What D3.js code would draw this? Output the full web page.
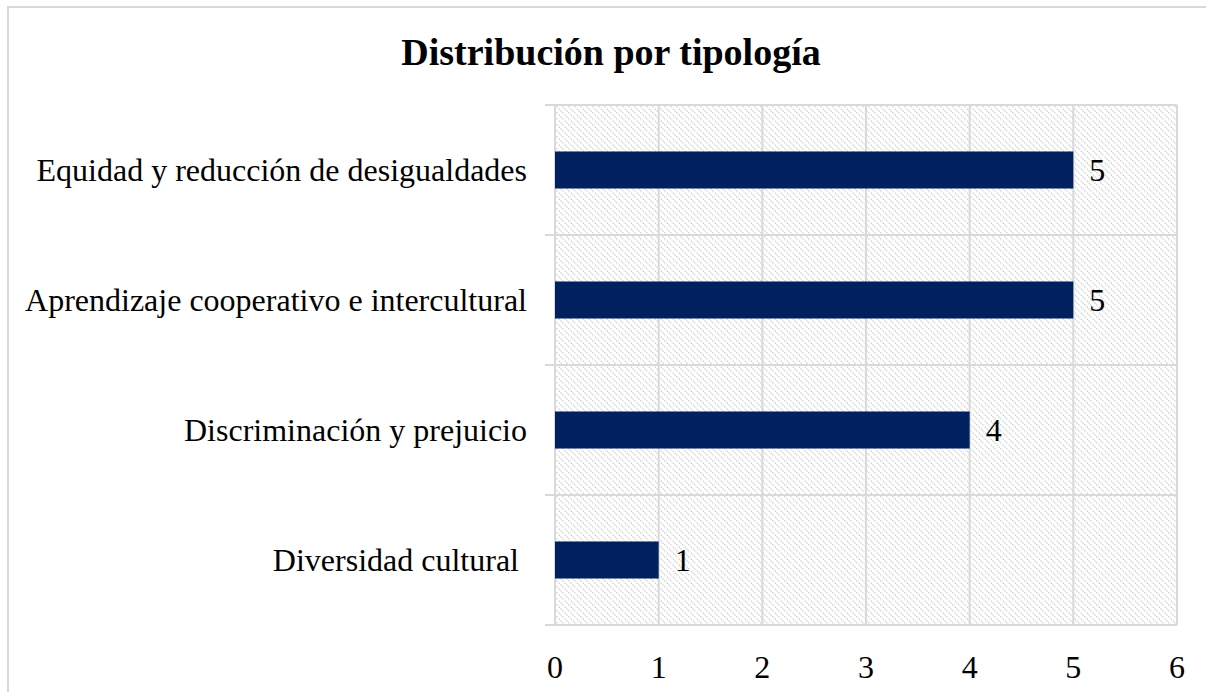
<!DOCTYPE html>
<html><head><meta charset="utf-8">
<script src="https://cdn.jsdelivr.net/npm/d3@7"></script>
<style>body{margin:0;background:#fff}svg{display:block}text{font-family:"Liberation Serif","Times New Roman",serif}</style>
</head><body><svg id="c" width="1206" height="692"></svg>
<script>
const categories = ["Equidad y reducción de desigualdades","Aprendizaje cooperativo e intercultural","Discriminación y prejuicio","Diversidad cultural "];
const values = [5,5,4,1];
const xTicks = [0,1,2,3,4,5,6];
const title = "Distribución por tipología";

const svg = d3.select("#c");
const W=1206,H=692;
const m={left:555,right:1177,top:105,bottom:625};
const defs = svg.append("defs");
const pat = defs.append("pattern").attr("id","hatch").attr("patternUnits","userSpaceOnUse").attr("width",6).attr("height",6);
pat.append("path").attr("d","M-1,-1 L7,7 M-1,5 L1,7 M5,-1 L7,1").attr("stroke","#cfcfcf").attr("stroke-width",1.3).attr("stroke-dasharray","1.5,1");

// outer border
svg.append("rect").attr("x",8).attr("y",7).attr("width",W+40).attr("height",H+40).attr("fill","none").attr("stroke","#d9d9d9").attr("stroke-width",2);

const x = d3.scaleLinear().domain([0,6]).range([m.left,m.right]);
const y = d3.scaleBand().domain(categories).range([m.top,m.bottom]).paddingInner(0).paddingOuter(0);

svg.append("rect").attr("x",m.left).attr("y",m.top).attr("width",m.right-m.left).attr("height",m.bottom-m.top).attr("fill","url(#hatch)");

// vertical gridlines
svg.append("g").selectAll("line").data(xTicks).join("line")
  .attr("x1",d=>x(d)).attr("x2",d=>x(d)).attr("y1",m.top).attr("y2",m.bottom)
  .attr("stroke","#d9d9d9").attr("stroke-width",2);
// horizontal boundaries
const bounds = categories.map(c=>y(c)).concat([m.bottom]);
svg.append("g").selectAll("line").data(bounds).join("line")
  .attr("x1",m.left-10).attr("x2",m.right).attr("y1",d=>d).attr("y2",d=>d)
  .attr("stroke","#d9d9d9").attr("stroke-width",2);

// bars
const bh = y.bandwidth()*0.285;
svg.append("g").selectAll("rect").data(values).join("rect")
  .attr("x",x(0)).attr("y",(d,i)=>y(categories[i])+y.bandwidth()/2-bh/2)
  .attr("width",d=>x(d)-x(0)).attr("height",bh).attr("fill","#002060");

// value labels
svg.append("g").selectAll("text").data(values).join("text")
  .attr("x",d=>x(d)+16).attr("y",(d,i)=>y(categories[i])+y.bandwidth()/2)
  .attr("dy","0.35em").attr("font-size",32).attr("fill","#000").text(d=>d);

// category labels
svg.append("g").selectAll("text").data(categories).join("text")
  .attr("x",m.left-28).attr("y",d=>y(d)+y.bandwidth()/2).attr("dy","0.35em")
  .attr("text-anchor","end").attr("font-size",32).attr("fill","#000")
  .style("white-space","pre").text(d=>d);

// x tick labels
svg.append("g").selectAll("text").data(xTicks).join("text")
  .attr("x",d=>x(d)).attr("y",678).attr("text-anchor","middle").attr("font-size",32).attr("fill","#000").text(d=>d);

svg.append("text").attr("x",611).attr("y",65).attr("text-anchor","middle").attr("font-size",38).attr("font-weight","bold").text(title);
</script></body></html>
